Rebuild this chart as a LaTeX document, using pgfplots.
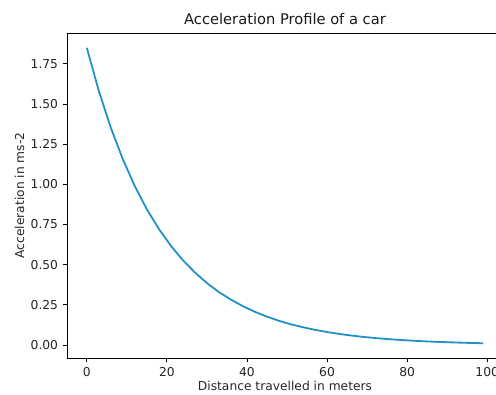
\documentclass[border=0pt]{standalone}
\usepackage{fontspec}
\setmainfont{DejaVu Sans}
\usepackage{pgfplots}
\pgfplotsset{compat=1.18}
\definecolor{lineblue}{RGB}{33,145,200}
\begin{document}
\begin{tikzpicture}[x=1pt,y=1pt]
\useasboundingbox (-50.25pt,-27pt) rectangle (321.75pt,268.5pt);
\begin{axis}[
  at={(0,0)}, anchor=south west,
  scale only axis,
  width=327pt, height=243.75pt,
  xmin=-4.95, xmax=103.95,
  ymin=-0.0815, ymax=1.942,
  xtick={0,20,40,60,80,100},
  ytick={0,0.25,0.5,0.75,1,1.25,1.5,1.75},
  yticklabel style={/pgf/number format/.cd,fixed,fixed zerofill,precision=2},
  xticklabel style={/pgf/number format/.cd,fixed},
  /pgf/number format/assume math mode=true,
  tick align=outside,
  tick pos=left,
  major tick length=3.2pt,
  tick style={line width=0.6pt,black},
  axis line style={line width=0.6pt},
  ticklabel style={font=\fontsize{9.2}{11}\selectfont, text=black!85},
  title={Acceleration Profile of a car},
  title style={font=\fontsize{11}{13}\selectfont, text=black!90, yshift=-3pt},
  xlabel={Distance travelled in meters},
  ylabel={Acceleration in ms-2},
  label style={font=\fontsize{9.2}{11}\selectfont, text=black!85},
  xlabel style={yshift=3pt},
  ylabel style={yshift=-2pt},
]
\addplot[lineblue, line width=1.35pt, no markers] coordinates {
(0,1.850) (3,1.581) (6,1.352) (9,1.156) (12,0.988) (15,0.844) (18,0.722)
(21,0.617) (24,0.527) (27,0.451) (30,0.385) (33,0.329) (36,0.282) (39,0.241)
(42,0.206) (45,0.176) (48,0.150) (51,0.128) (54,0.110) (57,0.0938) (60,0.0802)
(63,0.0685) (66,0.0586) (69,0.0501) (72,0.0428) (75,0.0366) (78,0.0313)
(81,0.0268) (84,0.0229) (87,0.0195) (90,0.0167) (93,0.0143) (96,0.0122) (99,0.0104)
};
\end{axis}
\end{tikzpicture}
\end{document}
